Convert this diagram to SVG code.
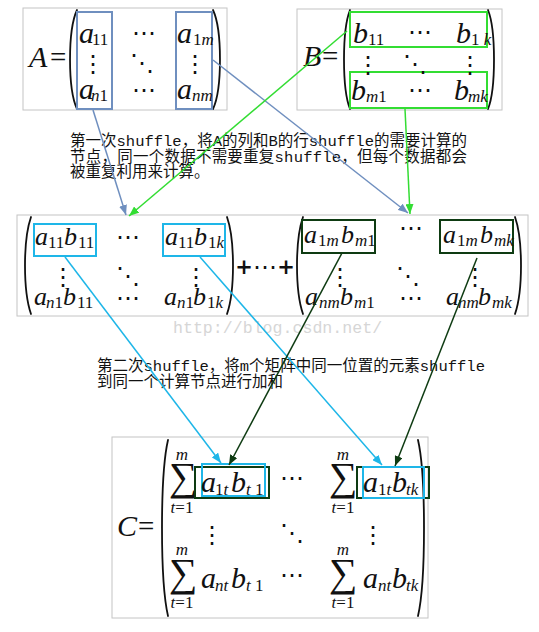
<svg xmlns="http://www.w3.org/2000/svg" width="539" height="632" viewBox="0 0 539 632">
<style>
.frame{fill:#fff;stroke:#c4c4c4;stroke-width:1}
.v{font-family:"Liberation Serif",serif;font-style:italic;font-size:30px;fill:#111}
.m{font-family:"Liberation Serif",serif;font-style:italic;font-size:26px;fill:#111}
.r{font-family:"Liberation Serif",serif;font-size:29px;fill:#111}
.s{font-family:"Liberation Serif",serif;font-size:17px;fill:#111}
.i{font-style:italic}
.d{font-family:"DejaVu Sans",sans-serif;font-size:24px;fill:#111;text-anchor:middle}
.sum{font-family:"Liberation Serif","DejaVu Serif",serif;font-size:40px;fill:#111;text-anchor:middle}
.lim{font-family:"Liberation Serif",serif;font-size:17px;fill:#111;text-anchor:middle}
.paren{fill:none;stroke:#111;stroke-width:1.8;stroke-linecap:round}
.bA{fill:none;stroke:#6f8fbf;stroke-width:2}
.bG{fill:none;stroke:#33dd33;stroke-width:2}
.bC{fill:none;stroke:#1eb6e8;stroke-width:2}
.bD{fill:none;stroke:#0e3b12;stroke-width:2}
.cn{font-family:"Liberation Mono","Noto Sans CJK SC",monospace;font-size:15.5px;fill:#111}
.wm{font-family:"Liberation Mono",monospace;font-size:16.6px;fill:#d6d6d6}
.plus{font-family:"DejaVu Sans",sans-serif;font-weight:bold;font-size:21px;fill:#111;text-anchor:middle}
</style>
<defs>
<marker id="arS" viewBox="0 0 10 8" refX="10" refY="4" markerWidth="10" markerHeight="8" markerUnits="userSpaceOnUse" orient="auto"><path d="M0,0 L10,4 L0,8 z" fill="#6f8fbf"/></marker>
<marker id="arG" viewBox="0 0 10 8" refX="10" refY="4" markerWidth="10" markerHeight="8" markerUnits="userSpaceOnUse" orient="auto"><path d="M0,0 L10,4 L0,8 z" fill="#33dd33"/></marker>
<marker id="arC" viewBox="0 0 10 8" refX="10" refY="4" markerWidth="10" markerHeight="8" markerUnits="userSpaceOnUse" orient="auto"><path d="M0,0 L10,4 L0,8 z" fill="#1eb6e8"/></marker>
<marker id="arD" viewBox="0 0 10 8" refX="10" refY="4" markerWidth="10" markerHeight="8" markerUnits="userSpaceOnUse" orient="auto"><path d="M0,0 L10,4 L0,8 z" fill="#0e3b12"/></marker>
</defs>
<rect width="539" height="632" fill="#fff"/>

<g id="matrixA">
<rect class="frame" x="23" y="8" width="204" height="102"/>
<text class="v" x="29" y="67">A</text><text class="r" x="50" y="67">=</text>
<path class="paren" d="M77,10 C67.7,30 67.7,89 77,109"/>
<path class="paren" d="M213,10 C222.3,30 222.3,89 213,109"/>
<rect class="bA" x="77" y="12" width="35" height="97"/>
<rect class="bA" x="176" y="12" width="36" height="97"/>
<text class="v" x="79" y="43">a</text><text class="s" x="92" y="45">11</text>
<text class="d" x="144" y="41">⋯</text>
<text class="v" x="177" y="43">a</text><text class="s" x="193" y="45">1<tspan class="i">m</tspan></text>
<text class="d" x="93" y="72">⋮</text>
<text class="d" x="142" y="71">⋱</text>
<text class="d" x="195" y="72">⋮</text>
<text class="v" x="79" y="99">a</text><text class="s" x="91" y="101"><tspan class="i">n</tspan>1</text>
<text class="d" x="144" y="98">⋯</text>
<text class="v" x="177" y="99">a</text><text class="s i" x="192" y="101">nm</text>
</g>

<g id="matrixB">
<rect class="frame" x="297" y="9" width="205" height="101"/>
<text class="v" x="303" y="66">B</text><text class="r" x="322" y="66">=</text>
<path class="paren" d="M350,10 C342,30 342,89 350,109"/>
<path class="paren" d="M488,10 C496,30 496,89 488,109"/>
<rect class="bG" x="350" y="12" width="137" height="35"/>
<rect class="bG" x="350" y="72" width="137" height="36"/>
<text class="v" x="353" y="43">b</text><text class="s" x="368" y="45">11</text>
<text class="d" x="420" y="40">⋯</text>
<text class="v" x="456" y="43">b</text><text class="s" x="471" y="45">1 <tspan class="i">k</tspan></text>
<text class="d" x="368" y="73">⋮</text>
<text class="d" x="415" y="72">⋱</text>
<text class="d" x="470" y="73">⋮</text>
<text class="v" x="351" y="100">b</text><text class="s" x="366" y="102"><tspan class="i">m</tspan>1</text>
<text class="d" x="420" y="98">⋯</text>
<text class="v" x="454" y="100">b</text><text class="s i" x="468" y="102">mk</text>
</g>

<g id="note1">
<text class="cn" x="70" y="146" textLength="397">第一次shuffle，将A的列和B的行shuffle的需要计算的</text>
<text class="cn" x="70" y="162" textLength="397">节点，同一个数据不需要重复shuffle，但每个数据都会</text>
<text class="cn" x="70" y="177">被重复利用来计算。</text>
</g>

<g id="products">
<rect class="frame" x="17" y="215" width="511" height="101"/>
<path class="paren" d="M31,217 C23,240 23,291 31,314"/>
<path class="paren" d="M227,217 C235,240 235,291 227,314"/>
<rect class="bC" x="34" y="224" width="62" height="32"/>
<rect class="bC" x="163" y="224" width="62" height="32"/>
<text class="m" x="35" y="245">a</text><text class="s" x="48" y="248">11</text><text class="m" x="64" y="245">b</text><text class="s" x="78" y="248">11</text>
<text class="d" x="128" y="245">⋯</text>
<text class="m" x="165" y="245">a</text><text class="s" x="178" y="248">11</text><text class="m" x="194" y="245">b</text><text class="s" x="208" y="248">1<tspan class="i">k</tspan></text>
<text class="d" x="63" y="285">⋮</text>
<text class="d" x="128" y="284">⋱</text>
<text class="d" x="196" y="285">⋮</text>
<text class="m" x="34" y="305">a</text><text class="s" x="46" y="308"><tspan class="i">n</tspan>1</text><text class="m" x="63" y="305">b</text><text class="s" x="77" y="308">11</text>
<text class="d" x="128" y="306">⋯</text>
<text class="m" x="164" y="305">a</text><text class="s" x="177" y="308"><tspan class="i">n</tspan>1</text><text class="m" x="193" y="305">b</text><text class="s" x="207" y="308">1<tspan class="i">k</tspan></text>

<text class="plus" x="244" y="274">+</text>
<text class="d" x="265" y="275">⋯</text>
<text class="plus" x="286" y="274">+</text>

<path class="paren" d="M303,217 C295,240 295,291 303,314"/>
<path class="paren" d="M515,217 C523,240 523,291 515,314"/>
<rect class="bD" x="302" y="220" width="73" height="33"/>
<rect class="bD" x="440" y="220" width="73" height="33"/>
<text class="m" x="304" y="243">a</text><text class="s" x="318" y="246">1<tspan class="i">m</tspan></text><text class="m" x="341" y="243">b</text><text class="s" x="355" y="246"><tspan class="i">m</tspan>1</text>
<text class="d" x="411" y="236">⋯</text>
<text class="m" x="443" y="243">a</text><text class="s" x="457" y="246">1<tspan class="i">m</tspan></text><text class="m" x="480" y="243">b</text><text class="s i" x="494" y="246">mk</text>
<text class="d" x="340" y="285">⋮</text>
<text class="d" x="408" y="284">⋱</text>
<text class="d" x="475" y="285">⋮</text>
<text class="m" x="305" y="305">a</text><text class="s i" x="319" y="308">nm</text><text class="m" x="340" y="305">b</text><text class="s" x="354" y="308"><tspan class="i">m</tspan>1</text>
<text class="d" x="411" y="306">⋯</text>
<text class="m" x="446" y="305">a</text><text class="s i" x="458" y="308">nm</text><text class="m" x="478" y="305">b</text><text class="s i" x="492" y="308">mk</text>
</g>

<text class="wm" x="173" y="333">http://blog.csdn.net/</text>

<g id="note2">
<text class="cn" x="97" y="371" textLength="388">第二次shuffle，将m个矩阵中同一位置的元素shuffle</text>
<text class="cn" x="97" y="387">到同一个计算节点进行加和</text>
</g>

<g id="matrixC">
<rect class="frame" x="112" y="437" width="316" height="181"/>
<text class="v" x="117" y="536">C</text><text class="r" x="138" y="536">=</text>
<path class="paren" d="M168,440 C160,475 160,581 168,616"/>
<path class="paren" d="M418,440 C426,475 426,581 418,616"/>
<text class="lim i" x="182" y="460">m</text>
<text class="sum" x="183" y="490">∑</text>
<text class="lim" x="182" y="513"><tspan class="i">t</tspan>=1</text>
<rect class="bD" x="195" y="467" width="74" height="31"/>
<rect class="bC" x="202" y="464" width="63" height="32"/>
<text class="v" x="201" y="492">a</text><text class="s" x="215" y="495">1<tspan class="i">t</tspan></text><text class="v" x="231" y="492">b</text><text class="s" x="246" y="495"><tspan class="i">t</tspan> 1</text>
<text class="d" x="292" y="486">⋯</text>
<text class="lim i" x="343" y="460">m</text>
<text class="sum" x="343" y="490">∑</text>
<text class="lim" x="343" y="513"><tspan class="i">t</tspan>=1</text>
<rect class="bD" x="357" y="467" width="72" height="31"/>
<rect class="bC" x="363" y="467" width="61" height="31"/>
<text class="v" x="363" y="492">a</text><text class="s" x="378" y="495">1<tspan class="i">t</tspan></text><text class="v" x="392" y="492">b</text><text class="s i" x="406" y="495">tk</text>
<text class="d" x="212" y="543">⋮</text>
<text class="d" x="292" y="541">⋱</text>
<text class="d" x="373" y="543">⋮</text>
<text class="lim i" x="182" y="555">m</text>
<text class="sum" x="183" y="586">∑</text>
<text class="lim" x="182" y="608"><tspan class="i">t</tspan>=1</text>
<text class="v" x="201" y="588">a</text><text class="s i" x="215" y="591">nt</text><text class="v" x="231" y="588">b</text><text class="s" x="246" y="591"><tspan class="i">t</tspan> 1</text>
<text class="d" x="292" y="583">⋯</text>
<text class="lim i" x="343" y="555">m</text>
<text class="sum" x="343" y="586">∑</text>
<text class="lim" x="343" y="608"><tspan class="i">t</tspan>=1</text>
<text class="v" x="363" y="588">a</text><text class="s i" x="378" y="591">nt</text><text class="v" x="392" y="588">b</text><text class="s i" x="406" y="591">tk</text>
</g>

<g id="connectors" fill="none" stroke-width="1.5">
<line x1="93" y1="110" x2="126" y2="215" stroke="#6f8fbf" marker-end="url(#arS)"/>
<line x1="213" y1="60" x2="408" y2="213" stroke="#6f8fbf" marker-end="url(#arS)"/>
<line x1="347" y1="31" x2="129" y2="216" stroke="#33dd33" marker-end="url(#arG)"/>
<line x1="405" y1="109" x2="410" y2="214" stroke="#33dd33" marker-end="url(#arG)"/>
<line x1="65" y1="257" x2="221" y2="463" stroke="#1eb6e8" marker-end="url(#arC)"/>
<line x1="200" y1="257" x2="382" y2="465" stroke="#1eb6e8" marker-end="url(#arC)"/>
<line x1="342" y1="253" x2="229" y2="465" stroke="#0e3b12" marker-end="url(#arD)"/>
<line x1="477" y1="258" x2="395" y2="466" stroke="#0e3b12" marker-end="url(#arD)"/>
</g>
</svg>
